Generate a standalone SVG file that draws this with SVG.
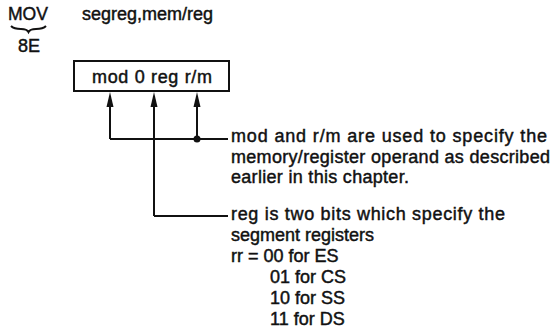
<svg xmlns="http://www.w3.org/2000/svg" width="552" height="333" viewBox="0 0 552 333">
<style>
text{font-family:"Liberation Sans",Arial,sans-serif;font-size:18px;fill:#111;stroke:#111;stroke-width:0.45px;}
.ln{stroke:#111;stroke-width:2;fill:none;}
.ah{fill:#111;}
</style>
<rect width="552" height="333" fill="#fff"/>
<g id="header">
<text x="8" y="20" textLength="40" lengthAdjust="spacingAndGlyphs">MOV</text>
<path class="ln" d="M11,26 Q14,29 21,29 Q27,29 28.5,32 Q30,29 36,29 Q43,29 46,26"/>
<text x="18" y="52" font-size="17">8E</text>
<text x="82" y="20" font-size="17">segreg,mem/reg</text>
</g>
<g id="box">
<rect x="74" y="61" width="155" height="30" class="ln" fill="#fff"/>
<text x="92" y="83" textLength="120">mod 0 reg r/m</text>
</g>
<g id="connectors">
<path class="ln" d="M110,139 V106"/>
<path class="ln" d="M154,216 V106"/>
<path class="ln" d="M197,139 V106"/>
<path class="ah" d="M110,92 L113.5,107 L106.5,107 Z"/>
<path class="ah" d="M154,92 L157.5,107 L150.5,107 Z"/>
<path class="ah" d="M197,92 L200.5,107 L193.5,107 Z"/>
<path class="ln" d="M110,139 H228"/>
<path class="ln" d="M154,216 H228"/>
<circle cx="197" cy="139" r="3.5" class="ah"/>
</g>
<g id="note1">
<text x="231" y="142" textLength="316">mod and r/m are used to specify the</text>
<text x="231" y="163" textLength="319">memory/register operand as described</text>
<text x="231" y="183" textLength="178">earlier in this chapter.</text>
</g>
<g id="note2">
<text x="231" y="220" textLength="274">reg is two bits which specify the</text>
<text x="231" y="241">segment registers</text>
<text x="231" y="262">rr = 00 for ES</text>
<text x="270" y="283">01 for CS</text>
<text x="270" y="304">10 for SS</text>
<text x="270" y="325">11 for DS</text>
</g>
</svg>
